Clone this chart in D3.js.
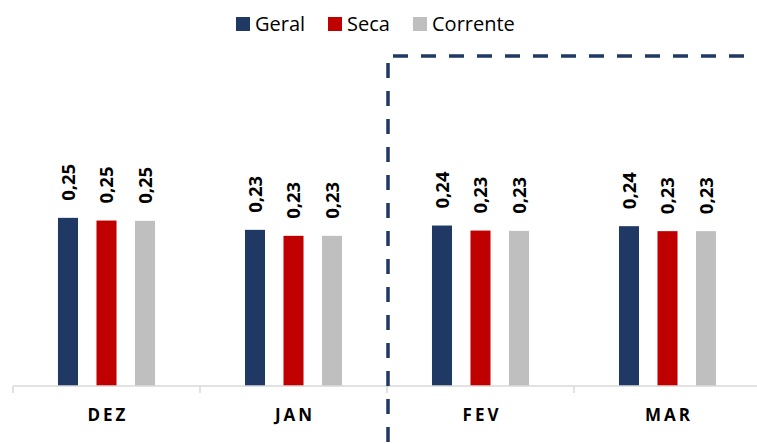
<!DOCTYPE html>
<html>
<head>
<meta charset="utf-8">
<script src="https://cdn.jsdelivr.net/npm/d3@7/dist/d3.min.js"></script>
<style>
  html, body { margin: 0; padding: 0; background: #ffffff; }
  svg { display: block; }
</style>
</head>
<body>
<script>
// ---- data ----
const categories = ["DEZ", "JAN", "FEV", "MAR"];
const series = ["Geral", "Seca", "Corrente"];
const geral = [0.2500, 0.2336, 0.2395, 0.2386];
const seca = [0.2463, 0.2254, 0.2326, 0.2318];
const corrente = [0.2459, 0.2254, 0.2322, 0.2318];
const colors = ["#203864", "#c00000", "#bfbfbf"];

const W = 757, H = 444;
const svg = d3.select("body").append("svg").attr("width", W).attr("height", H);

const values = [geral, seca, corrente];
const rows = categories.map((c, i) => ({ cat: c, vals: series.map((s, j) => ({ s, j, v: values[j][i] })) }));

const x0 = d3.scaleBand().domain(categories).range([13, 761]).padding(0);
const x1 = d3.scaleBand().domain(series).range([0, x0.bandwidth()]).paddingInner(0.48).paddingOuter(1.1685);
const y = d3.scaleLinear().domain([0.02, 0.47]).range([386, 57]);

const fmt = v => d3.format(".2f")(v).replace(".", ",");

// bars
const g = svg.append("g");
const groups = g.selectAll("g.cat").data(rows).join("g")
  .attr("class", "cat")
  .attr("transform", d => `translate(${x0(d.cat)},0)`);

groups.selectAll("rect").data(d => d.vals).join("rect")
  .attr("x", d => x1(d.s))
  .attr("y", d => y(d.v))
  .attr("width", x1.bandwidth())
  .attr("height", d => y.range()[0] - y(d.v))
  .attr("fill", d => colors[d.j]);

groups.selectAll("text").data(d => d.vals).join("text")
  .attr("transform", d => `translate(${x1(d.s) + x1.bandwidth() / 2},${y(d.v) - 17}) rotate(-90)`)
  .attr("dy", "0.36em")
  .attr("text-anchor", "start")
  .attr("font-family", "'Open Sans', sans-serif")
  .attr("font-weight", "bold")
  .attr("font-size", "18.5px")
  .attr("fill", "#000")
  .text(d => fmt(d.v));

// x axis
const ax = svg.append("g").attr("transform", "translate(0,386)");
ax.append("line").attr("x1", 13).attr("x2", 761).attr("y1", 0).attr("y2", 0)
  .attr("stroke", "#d9d9d9").attr("stroke-width", 1.5);
const bounds = categories.map(c => x0(c)).concat([x0.range()[1]]);
ax.selectAll("line.tk").data(bounds).join("line").attr("class", "tk")
  .attr("x1", d => d).attr("x2", d => d).attr("y1", 0).attr("y2", 7)
  .attr("stroke", "#d9d9d9").attr("stroke-width", 1.5);
ax.selectAll("text.cl").data(categories).join("text").attr("class", "cl")
  .attr("x", d => x0(d) + x0.bandwidth() / 2 + 1.5)
  .attr("y", 35)
  .attr("text-anchor", "middle")
  .attr("font-family", "'Open Sans', sans-serif")
  .attr("font-weight", "bold")
  .attr("font-size", "17px")
  .attr("letter-spacing", "3px")
  .attr("fill", "#000")
  .text(d => d);

// dashed divider
const dash = "15,13";
svg.append("line").attr("x1", 388).attr("x2", 388).attr("y1", 63).attr("y2", 450)
  .attr("stroke", "#203864").attr("stroke-width", 3.5).attr("stroke-dasharray", dash);
svg.append("line").attr("x1", 393).attr("x2", 765).attr("y1", 56).attr("y2", 56)
  .attr("stroke", "#203864").attr("stroke-width", 3.5).attr("stroke-dasharray", dash);

// legend
const legX = [236, 328, 413];
const leg = svg.append("g");
series.forEach((s, i) => {
  leg.append("rect").attr("x", legX[i]).attr("y", 17).attr("width", 14).attr("height", 14).attr("fill", colors[i]);
  leg.append("text").attr("x", legX[i] + 19).attr("y", 31)
    .attr("font-family", "'Open Sans', sans-serif").attr("font-size", "20px").attr("fill", "#000")
    .text(s);
});
</script>
</body>
</html>
